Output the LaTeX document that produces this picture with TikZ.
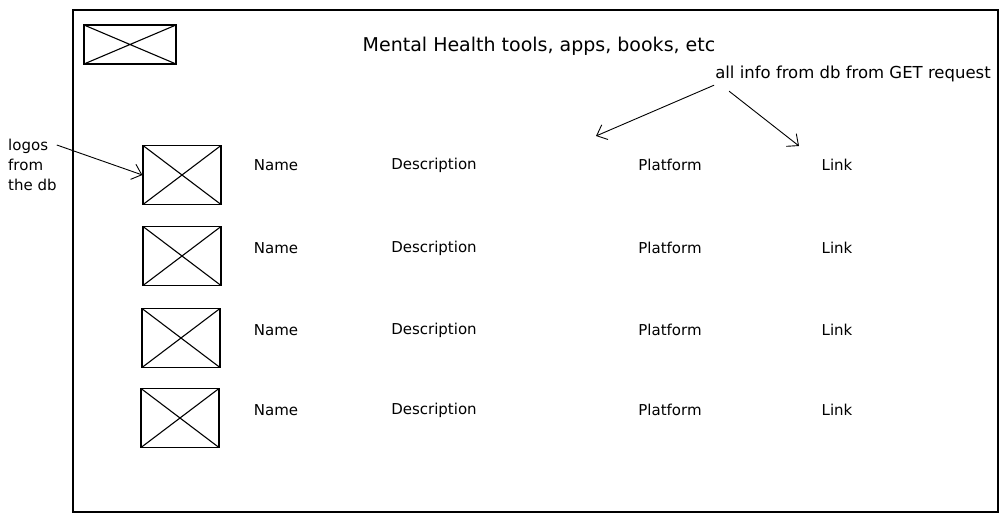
\documentclass[tikz,border=0pt]{standalone}
\usepackage{fontspec}
\setmainfont{DejaVu Sans}
\usetikzlibrary{arrows.meta,positioning}

\begin{document}
\begin{tikzpicture}[
		x=1pt, y=-1pt,
		>={Straight Barb[length=9pt,width=16pt]},
		logo/.style={
			draw,
			line width=1.2pt,
			minimum width=78pt,
			minimum height=59pt,
			inner sep=0pt,
			path picture={
				\draw[line width=1.1pt]
				(path picture bounding box.north west) -- (path picture bounding box.south east)
				(path picture bounding box.south west) -- (path picture bounding box.north east);
			}
		},
		field/.style={font=\fontsize{15}{18}\selectfont, inner sep=0pt},
		note/.style={font=\fontsize{15}{20}\selectfont, inner sep=0pt, align=left}
		]
		
		\useasboundingbox (0,0) rectangle (1007,521);
		
		% page frame
		\node[draw, line width=1.3pt, minimum width=925pt, minimum height=502pt, inner sep=0pt] (page) at (535.5,261) {};
		
		% header: site logo and title
		\node[logo, minimum width=92pt, minimum height=39pt] (sitelogo) at (130,44.5) {};
		\node[font=\fontsize{19}{22}\selectfont, inner sep=0pt] (title) at (539,46) {Mental Health tools, apps, books, etc};
		
		% row 1
		\node[logo] (logo1) at (182,175) {};
		\node[field] (name1) at (276,165) {Name};
		\node[field] (desc1) at (434,165) {Description};
		\node[field] (plat1) at (670,165) {Platform};
		\node[field] (link1) at (837,165) {Link};
		
		% row 2
		\node[logo] (logo2) at (182,256) {};
		\node[field] (name2) at (276,248) {Name};
		\node[field] (desc2) at (434,248) {Description};
		\node[field] (plat2) at (670,248) {Platform};
		\node[field] (link2) at (837,248) {Link};
		
		% row 3
		\node[logo] (logo3) at (181,338) {};
		\node[field] (name3) at (276,330) {Name};
		\node[field] (desc3) at (434,330) {Description};
		\node[field] (plat3) at (670,330) {Platform};
		\node[field] (link3) at (837,330) {Link};
		
		% row 4
		\node[logo] (logo4) at (180,418) {};
		\node[field] (name4) at (276,410) {Name};
		\node[field] (desc4) at (434,410) {Description};
		\node[field] (plat4) at (670,410) {Platform};
		\node[field] (link4) at (837,410) {Link};
		
		% notes
		\node[note, anchor=north west] (dbnote) at (8,139) {logos\\from\\the db};
		\node[note, font=\fontsize{16.5}{20}\selectfont] (info) at (853,74) {all info from db from GET request};
		
		\coordinate (platend) at (596,136);
		\coordinate (linkend) at (799,146);
		
		% arrows
		\draw[->, line width=0.9pt] ([yshift=-6pt]dbnote.north east) -- (logo1.west);
		\draw[->, line width=0.9pt] ([xshift=-1pt,yshift=-3pt]info.south west) -- (platend);
		\draw[->, line width=0.9pt] ([xshift=14pt,yshift=-9pt]info.south west) -- (linkend);
		
		\end{tikzpicture}
\end{document}
